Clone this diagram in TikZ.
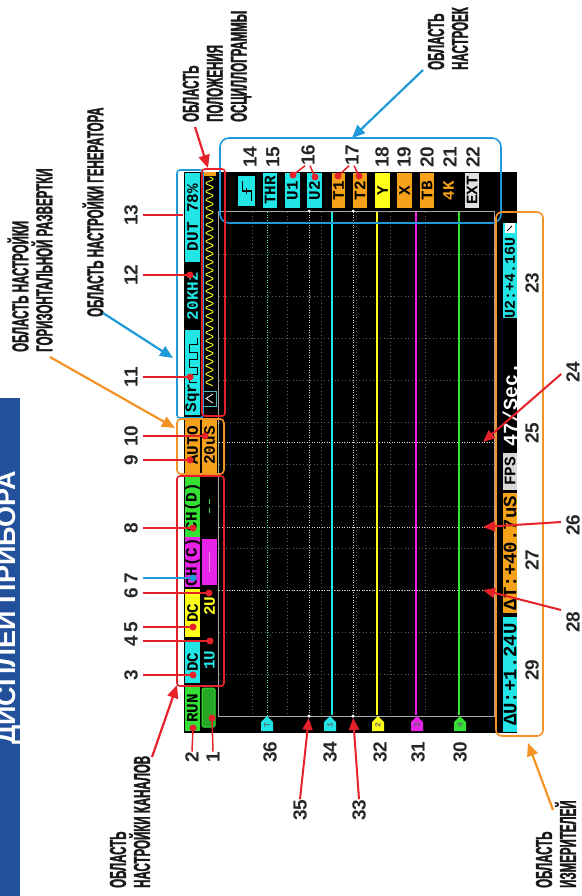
\documentclass[tikz,border=0pt]{standalone}
\usepackage{fontspec}
\setmainfont{Liberation Sans}
\newfontfamily\condf[FakeStretch=0.5,FakeBold=1.3]{Liberation Sans}
\newfontfamily\numf{Liberation Sans}
\newfontfamily\scrf{Liberation Mono}
\usetikzlibrary{arrows.meta}
\definecolor{cred}{HTML}{E62129}
\definecolor{cblue}{HTML}{1E9AD8}
\definecolor{corange}{HTML}{F39324}
\definecolor{ctitle}{HTML}{22509B}
\definecolor{scyan}{HTML}{22E6E6}
\definecolor{syellow}{HTML}{FFFF1A}
\definecolor{smag}{HTML}{E623E6}
\definecolor{sgreen}{HTML}{33E033}
\definecolor{sorange}{HTML}{F5A21A}
\definecolor{sgrid}{HTML}{56655C}
\tikzset{
 lbl/.style={font=\condf\bfseries\fontsize{23}{24}\selectfont, rotate=90, inner sep=0, align=left, anchor=west, text=black!90},
 num/.style={font=\numf\bfseries\fontsize{19}{19}\selectfont, rotate=90, inner sep=0, text=black!85},
 scrbase/.style={rotate=90, inner sep=0},
 scr/.style={scrbase, font=\scrf\bfseries\fontsize{16}{16}\selectfont},
 scrS/.style={scrbase, font=\scrf\bfseries\fontsize{15}{15}\selectfont},
 scrL/.style={scrbase, font=\scrf\bfseries\fontsize{19}{19}\selectfont},
 scrXL/.style={scrbase, font=\scrf\bfseries\fontsize{20}{20}\selectfont},
 dot/.style={circle, inner sep=0, minimum size=7pt},
 bigarrow/.style={line width=2.2pt, -{Triangle[length=13pt,width=11pt]}},
 redarrow/.style={cred, line width=2pt, -{Triangle[length=12pt,width=10pt]}},
 area/.style={line width=1.6pt},
 gridl/.style={sgrid, line width=1pt, dash pattern=on 1pt off 2.5pt},
 curs/.style={white!85!black, line width=1pt, dash pattern=on 1pt off 1.5pt},
}
\newcommand\callout[5]{%
 \node[num] (n#1) at (131,#3) {#2};
 \node[dot, fill=#5] (d#1) at (#4,#3) {};
 \draw[line width=1.5pt, #5] (n#1.south) ++(5pt,0) -- (d#1.center);
}
\newcommand\mkr[4]{%
 \fill[#2] (#1-6,731) -- (#1+6,731) -- (#1+6,722) -- (#1,716) -- (#1-6,722) -- cycle;
 \node[font=\scrf\bfseries\fontsize{8}{8}\selectfont, rotate=90, inner sep=0, text=black!60] (#4) at (#1,725) {#3};
}
\begin{document}
\begin{tikzpicture}[x=1pt,y=-1pt]
\useasboundingbox (0,0) rectangle (581,896);
% title bar
\fill[ctitle] (0,398) rectangle (20,896);
\node[font=\numf\bfseries\fontsize{27}{27}\selectfont, text=white, rotate=90, anchor=base west, inner sep=0] (title) at (15,745) {ДИСПЛЕЙ ПРИБОРА};
% screen
\fill[black] (184,172) rectangle (517,733);
% grid
\foreach \yy in {254,296,...,674} \draw[gridl] (219,\yy) -- (493,\yy);
\foreach \xx in {252.5,287,321.5,356,390.5,425,459.5} \draw[gridl] (\xx,212) -- (\xx,715);
\draw[gray!70, line width=0.8pt] (218,211) rectangle (494,716);
% cursors
\foreach \yy in {442,527,590} \draw[curs] (219,\yy) -- (493,\yy);
\draw[curs] (309,212) -- (309,715);
\draw[curs] (353,212) -- (353,715);
\draw[scyan!60!green!80!white, line width=1pt, dash pattern=on 1pt off 1.5pt] (267,212) -- (267,715);
% traces
\draw[scyan, line width=2.5pt] (332,212) -- (332,715);
\draw[syellow, line width=2.5pt] (377,212) -- (377,715);
\draw[smag, line width=2.5pt] (416,212) -- (416,715);
\draw[sgreen, line width=2.5pt] (459,212) -- (459,715);
\node[circle, fill=white, inner sep=0, minimum size=3.5pt] (c35) at (309,716) {};
\node[circle, fill=white, inner sep=0, minimum size=3.5pt] (c33) at (353,716) {};
\node[circle, fill=white, inner sep=0, minimum size=3pt] (c35t) at (309,211) {};
\node[circle, fill=white, inner sep=0, minimum size=3pt] (c33t) at (353,211) {};
% bottom markers
\mkr{267}{scyan}{T}{m36}
\mkr{330}{scyan}{1}{m34}
\mkr{378}{syellow}{2}{m32}
\mkr{417}{smag}{3}{m31}
\mkr{460}{sgreen}{4}{m30}
% column 1 status
\node[scr, fill=scyan, minimum width=89, minimum height=15] (dut) at (192.5,217.5) {DUT 78\%};
\node[scr, text=scyan] (khz) at (192.5,296) {20KHz};
\node[scr, fill=scyan, minimum width=85, minimum height=15] (sqrbox) at (192.5,372.5) {};
\node[scr] (sqr) at (192.5,398) {Sqr};
\draw[black, line width=1pt] (197,382) -- (189,382) -- (189,374) -- (197,374) -- (197,367) -- (189,367) -- (189,359) -- (197,359) -- (197,352) -- (189,352) -- (189,344) -- (197,344) -- (197,338);
\node[scr, fill=sorange, minimum width=55, minimum height=15] (auto) at (192.5,445.5) {AUTO};
\node[scr, fill=sgreen, minimum width=60, minimum height=15] (chd) at (192.5,507) {CH(D)};
\node[scr, fill=smag, minimum width=50, minimum height=15] (chc) at (192.5,562) {CH(C)};
\node[scr, fill=syellow, minimum width=48, minimum height=15] (dcy) at (192.5,613) {DC};
\node[scr, fill=scyan, minimum width=42, minimum height=15] (dcc) at (192.5,662) {DC};
\node[scr, fill=sgreen, minimum width=45, minimum height=15] (run) at (192.5,708.5) {RUN};
% column 2
\draw[syellow, line width=0.9pt] plot[domain=0:209, samples=300, smooth] ({209.5+3.5*sin(\x*43.4)},{\x+177});
\fill[sorange] (203,172) rectangle (216,176);
\draw[scyan!60!gray, fill=black, line width=0.8pt] (203,391) rectangle (216,406);
\draw[white, line width=0.8pt] (213,394) -- (206,398.5) -- (213,403);
\node[scr, fill=sorange, minimum width=55, minimum height=15] (tb) at (209.5,445.5) {20uS};
\draw[sgreen, line width=1.2pt] (209.5,499) -- (209.5,504) (209.5,508) -- (209.5,513);
\fill[smag] (202,539) rectangle (217,585);
\draw[smag!50!white, line width=0.8pt] (209.5,552) -- (209.5,572);
\node[scr, text=syellow] (v2) at (209.5,606) {2U};
\node[scr, text=scyan] (v1) at (209.5,660) {1U};
\draw[sgreen, fill=sgreen!75!black, line width=1pt, rounded corners=1.5pt] (202,688) rectangle (215,727);
% settings row
\node[scrbase, fill=scyan, minimum width=30, minimum height=17] (trig) at (246.5,191) {};
\draw[black, line width=1pt] (251,201) -- (251,191) -- (242,191) -- (242,181);
\draw[black, line width=0.8pt] (246,188) -- (246,194);
\node[scr, fill=scyan, minimum width=34, minimum height=14] (thr) at (270,190.5) {THR};
\node[scr, fill=scyan, minimum width=34, minimum height=15] (u1) at (292.5,190.5) {U1};
\node[scr, fill=scyan, minimum width=34, minimum height=15] (u2) at (314.5,190.5) {U2};
\node[scr, fill=sorange, minimum width=34, minimum height=13] (t1) at (338.5,190.5) {T1};
\node[scr, fill=sorange, minimum width=34, minimum height=14] (t2) at (360,190.5) {T2};
\node[scr, fill=syellow, minimum width=34, minimum height=15] (sy) at (382.5,190.5) {Y};
\node[scr, fill=sorange, minimum width=34, minimum height=15] (sx) at (404.5,190.5) {X};
\node[scr, fill=sorange, minimum width=34, minimum height=14] (stb) at (427,190.5) {TB};
\node[scr, text=sorange] (s4k) at (448.5,190.5) {4K};
\node[scr, fill=white!88!black, minimum width=34, minimum height=14] (sext) at (472,190.5) {EXT};
% measurement column
\node[scrbase, fill=scyan, minimum width=95, minimum height=14] (u2box) at (510,270.5) {};
\node[scrS] (u2m) at (510,277.5) {U2:+4.16U};
\fill[white] (505,223) rectangle (515,233);
\draw[black, line width=1pt] (507,231) -- (512,226);
\node[scrXL, text=white] (sec) at (510,404.5) {47/Sec.};
\node[scr, fill=white!85!black, minimum width=37, minimum height=14] (fps) at (510,471.5) {FPS};
\node[scrL, fill=sorange, minimum width=120, minimum height=14] (dt) at (510,553) {ΔT:+40.7uS};
\node[scrL, fill=scyan, minimum width=115, minimum height=14] (du) at (510,674.5) {ΔU:+1.24U};
% area frames
\draw[cblue, area, rounded corners=9pt] (220,138) rectangle (501,223);
\draw[cblue, area, rounded corners=3pt] (177,170) rectangle (203,418);
\draw[cred, area, rounded corners=3pt] (202,169) rectangle (225,416);
\draw[corange, area, rounded corners=4pt] (177,419) rectangle (224,474);
\draw[cred, area, rounded corners=3pt] (177,476) rectangle (224,686);
\draw[corange, area, rounded corners=6pt] (496,212) rectangle (543,736);
% left callouts
\callout{3}{3}{675}{193}{cred}
\callout{4}{4}{641}{210}{cred}
\callout{5}{5}{627}{193}{cred}
\callout{6}{6}{593}{209}{cred}
\callout{7}{7}{578}{193}{cblue}
\callout{8}{8}{528}{193}{cred}
\callout{9}{9}{460}{190}{cred}
\callout{10}{10}{436}{205}{cred}
\callout{11}{11}{377}{190}{cred}
\callout{12}{12}{275}{190}{cred}
\node[num] (n13) at (131,215) {13};
\coordinate (d13) at (183,215);
\draw[line width=1.5pt, cred] (n13.south) ++(5pt,0) -- (d13);
% 1 and 2
\node[num] (n2) at (192,757) {2};
\node[dot, fill=cred] (d2) at (193,728) {};
\draw[line width=1.5pt, cred] (n2.east) -- (d2.center);
\node[num] (n1) at (213,757) {1};
\node[dot, fill=cred] (d1) at (212,718) {};
\draw[line width=1.5pt, cred] (n1.east) -- (d1.center);
% top numbers
\node[num] (n14) at (250,157) {14};
\node[num] (n15) at (273,157) {15};
\node[num] (n16) at (308,155) {16};
\node[num] (n17) at (352,155) {17};
\node[num] (n18) at (382,157) {18};
\node[num] (n19) at (404,157) {19};
\node[num] (n20) at (427,157) {20};
\node[num] (n21) at (450,157) {21};
\node[num] (n22) at (473,157) {22};
\node[dot, fill=cred] (d16a) at (293,175) {};
\node[dot, fill=cred] (d16b) at (315,177) {};
\node[dot, fill=cred] (d17a) at (338,176) {};
\node[dot, fill=cred] (d17b) at (359,176) {};
\draw[line width=1.5pt, cred] ([xshift=-3pt]n16.west) -- (d16a.center) ([xshift=2pt]n16.west) -- (d16b.center);
\draw[line width=1.5pt, cred] ([xshift=-3pt]n17.west) -- (d17a.center) ([xshift=2pt]n17.west) -- (d17b.center);
% bottom numbers
\node[num] (n36) at (270,752) {36};
\node[num] (n34) at (330,752) {34};
\node[num] (n32) at (380,752) {32};
\node[num] (n31) at (418,752) {31};
\node[num] (n30) at (460,752) {30};
\node[num] (n35) at (300,810) {35};
\node[num] (n33) at (359,810) {33};
\draw[redarrow] (n35.east) -- (c35);
\draw[redarrow] (n33.east) -- (c33);
% measurement numbers
\node[num] (n23) at (532,283) {23};
\node[num] (n25) at (532,433) {25};
\node[num] (n27) at (532,560) {27};
\node[num] (n29) at (532,670) {29};
\node[num] (n24) at (573,372) {24};
\node[num] (n26) at (573,525) {26};
\node[num] (n28) at (573,622) {28};
\coordinate (t24) at (483,442);
\coordinate (t26) at (483,527);
\coordinate (t28) at (483,590);
\draw[redarrow] (n24.north) ++(-5pt,-2pt) -- (t24);
\draw[redarrow] (n26.north) ++(-5pt,3pt) -- (t26);
\draw[redarrow] (n28.north) ++(-5pt,12pt) -- (t28);
% region labels
\node[lbl] (lHor) at (30,352) {ОБЛАСТЬ НАСТРОЙКИ\\ГОРИЗОНТАЛЬНОЙ РАЗВЕРТКИ};
\node[lbl] (lGen) at (93,317) {ОБЛАСТЬ НАСТРОЙКИ ГЕНЕРАТОРА};
\node[lbl] (lPos) at (217,122) {ОБЛАСТЬ\\ПОЛОЖЕНИЯ\\ОСЦИЛЛОГРАММЫ};
\node[lbl] (lSet) at (448,70) {ОБЛАСТЬ\\НАСТРОЕК};
\node[lbl] (lCh) at (130,888) {ОБЛАСТЬ\\НАСТРОЙКИ КАНАЛОВ};
\node[lbl] (lMeas) at (556,888) {ОБЛАСТЬ\\ИЗМЕРИТЕЛЕЙ};
\coordinate (aHor) at (175,428);
\coordinate (aGen) at (173,358);
\coordinate (aPos) at (208,168);
\coordinate (aSet) at (352,138);
\coordinate (aCh) at (177,685);
\coordinate (aMeas) at (528,743);
\draw[bigarrow, corange] (50,357) -- (aHor);
\draw[bigarrow, cblue] (103,313) -- (aGen);
\draw[bigarrow, cred] (195,127) -- (aPos);
\draw[bigarrow, cblue] (423,70) -- (aSet);
\draw[bigarrow, cred] (152,757) -- (aCh);
\draw[bigarrow, corange] (553,810) -- (aMeas);
\end{tikzpicture}
\end{document}
